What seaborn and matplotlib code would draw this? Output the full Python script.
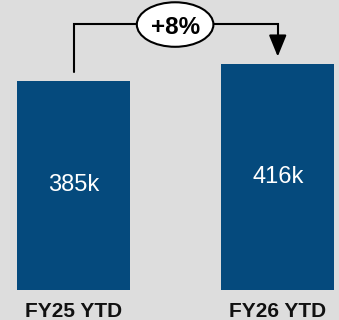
import matplotlib
matplotlib.use("Agg")
import matplotlib.pyplot as plt
from matplotlib.patches import Ellipse
import seaborn as sns
import pandas as pd

periods = ["FY25 YTD", "FY26 YTD"]
volumes_k = [385, 416]
change_label = "+8%"

BG = "#dddddd"
BAR = "#054a7d"

sns.set_theme(style="white")
plt.rcParams["font.family"] = ["Liberation Sans", "DejaVu Sans"]

fig = plt.figure(figsize=(3.39, 3.20), dpi=100, facecolor=BG)
ax = fig.add_axes([0, 0, 1, 1])
ax.set_facecolor(BG)

df = pd.DataFrame({"period": periods, "volume": volumes_k})
sns.barplot(data=df, x="period", y="volume", color=BAR, saturation=1,
            width=0.554, linewidth=0, ax=ax)

ax.set_xlim(-0.36, 1.30)
ax.set_ylim(-55.3, 534.2)
ax.axis("off")

# value labels inside the bars
ax.bar_label(ax.containers[0], labels=[f"{v}k" for v in volumes_k],
             label_type="center", color="white", fontsize=17)

# category labels under the bars
for i, p in enumerate(periods):
    ax.text(i, -50.5, p, ha="center", va="baseline", fontsize=15,
            fontweight="bold", color="#111111")

# connector from first bar to second bar with growth badge
top_y = 490
ax.plot([0, 0, 1, 1], [volumes_k[0] + 17, top_y, top_y, volumes_k[1] + 45],
        color="black", lw=1.5, solid_joinstyle="miter", zorder=3)
ax.annotate("", xy=(1, volumes_k[1] + 14), xytext=(1, volumes_k[1] + 46),
            arrowprops=dict(arrowstyle="-|>,head_length=1.1,head_width=0.45",
                            color="black", lw=1.5, shrinkA=0, shrinkB=0),
            zorder=3)
ax.add_patch(Ellipse((0.4975, top_y - 1), 0.375, 82, facecolor="white",
                     edgecolor="black", lw=1.5, zorder=4))
ax.text(0.4975, top_y - 2, change_label, ha="center", va="center_baseline",
        fontsize=17.5, fontweight="bold", color="black", zorder=5)

fig.savefig("out.png", dpi=100, facecolor=BG)
